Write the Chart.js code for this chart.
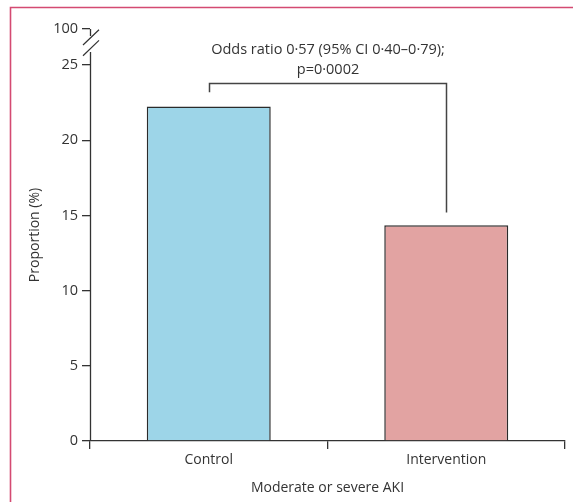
<!DOCTYPE html>
<html>
<head>
<meta charset="utf-8">
<script src="https://cdn.jsdelivr.net/npm/chart.js@4.4.1/dist/chart.umd.min.js"></script>
<style>
  html, body { margin: 0; padding: 0; background: #fff; }
  canvas { display: block; }
</style>
</head>
<body>
<canvas id="chart" width="573" height="502"></canvas>
<script>
const categories = ['Control', 'Intervention'];
const proportions = [22.25, 14.35];
const barColors = ['#9dd5e8', '#e2a3a2'];
const yTickValues = [0, 5, 10, 15, 20, 25];
const breakValue = 27.4;   // value where the "100" tick sits, above the axis break
const breakLabel = '100';
const annotationLines = ['Odds ratio 0·57 (95% CI 0·40–0·79);', 'p=0·0002'];
const bracketTop = 23.8;
const bracketEnds = [23.2, 15.2];

const textColor = '#333';
const axisColor = '#333';
const fontFamily = "'Open Sans', 'Noto Sans', sans-serif";

const decorations = {
    id: 'decorations',
    beforeDraw: function (chart) {
        const ctx = chart.ctx;
        ctx.save();
        ctx.strokeStyle = '#d44a72';
        ctx.lineWidth = 1.6;
        ctx.beginPath();
        ctx.moveTo(10.5, chart.height);
        ctx.lineTo(10.5, 7.5);
        ctx.lineTo(chart.width, 7.5);
        ctx.stroke();
        ctx.restore();
    },
    afterDraw: function (chart) {
        const ctx = chart.ctx;
        const y = chart.scales.y;
        const x = chart.scales.x;
        const ax = Math.round(chart.chartArea.left) + 0.5;
        const top = y.getPixelForValue(breakValue);
        const bottom = y.getPixelForValue(0);

        ctx.save();
        ctx.strokeStyle = axisColor;
        ctx.lineWidth = 1.3;

        // y axis in two pieces with the // break between them
        ctx.beginPath();
        ctx.moveTo(ax, top);
        ctx.lineTo(ax, top + 7);
        ctx.moveTo(ax, top + 23);
        ctx.lineTo(ax, bottom);
        ctx.stroke();

        ctx.lineWidth = 1.2;
        ctx.beginPath();
        ctx.moveTo(ax - 7.5, top + 16);
        ctx.lineTo(ax + 8.5, top + 0.7);
        ctx.moveTo(ax - 7.5, top + 26.7);
        ctx.lineTo(ax + 8.5, top + 11.4);
        ctx.stroke();

        // significance bracket
        const x0 = Math.round(x.getPixelForValue(0)) + 0.5;
        const x1 = Math.round(x.getPixelForValue(1)) + 0.5;
        const yb = Math.round(y.getPixelForValue(bracketTop)) + 0.5;
        ctx.strokeStyle = '#444';
        ctx.lineWidth = 1.5;
        ctx.beginPath();
        ctx.moveTo(x0, y.getPixelForValue(bracketEnds[0]));
        ctx.lineTo(x0, yb);
        ctx.lineTo(x1, yb);
        ctx.lineTo(x1, y.getPixelForValue(bracketEnds[1]));
        ctx.stroke();

        ctx.fillStyle = textColor;
        ctx.font = '14.5px ' + fontFamily;
        ctx.textAlign = 'center';
        ctx.textBaseline = 'middle';
        const cx = (x0 + x1) / 2;
        ctx.fillText(annotationLines[0], cx, yb - 34);
        ctx.fillText(annotationLines[1], cx, yb - 14);
        ctx.restore();
    }
};

new Chart(document.getElementById('chart'), {
    type: 'bar',
    data: {
        labels: categories,
        datasets: [{
            data: proportions,
            backgroundColor: barColors,
            borderColor: '#2b2b2b',
            borderWidth: 1.5,
            categoryPercentage: 1,
            barPercentage: 0.522
        }]
    },
    plugins: [decorations],
    options: {
        responsive: false,
        animation: false,
        layout: { padding: { left: 10, right: 8, top: 29, bottom: 0 } },
        plugins: {
            legend: { display: false },
            tooltip: { enabled: false }
        },
        scales: {
            x: {
                grid: {
                    offset: true,
                    drawOnChartArea: false,
                    drawTicks: true,
                    tickLength: 8,
                    color: axisColor,
                    lineWidth: 1.3
                },
                border: { display: true, color: axisColor, width: 1.3 },
                ticks: {
                    color: textColor,
                    padding: 3,
                    font: { family: fontFamily, size: 14 }
                },
                title: {
                    display: true,
                    text: 'Moderate or severe AKI',
                    color: textColor,
                    padding: { top: 0, bottom: 6 },
                    font: { family: fontFamily, size: 14 }
                },
                afterFit: function (scale) { scale.height = 61; }
            },
            y: {
                min: 0,
                max: breakValue,
                afterBuildTicks: function (scale) {
                    scale.ticks = yTickValues.concat([breakValue]).map(function (v) { return { value: v }; });
                },
                grid: {
                    drawOnChartArea: false,
                    drawTicks: true,
                    tickLength: 8,
                    color: axisColor,
                    lineWidth: 1.3
                },
                border: { display: false },
                ticks: {
                    color: textColor,
                    padding: 4,
                    font: { family: fontFamily, size: 14.5 },
                    callback: function (value) {
                        return value === breakValue ? breakLabel : value;
                    }
                },
                title: {
                    display: true,
                    text: 'Proportion (%)',
                    color: textColor,
                    padding: { top: 17, bottom: 0 },
                    font: { family: fontFamily, size: 14 }
                },
                afterFit: function (scale) { scale.width = 80; }
            }
        }
    }
});
</script>
</body>
</html>
